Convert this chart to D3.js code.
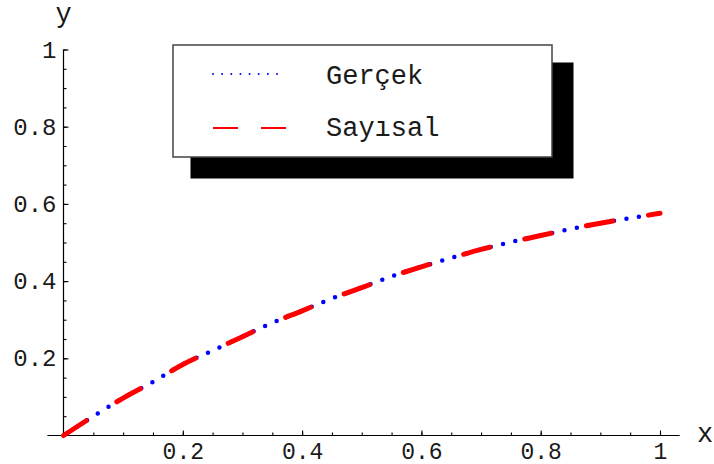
<!DOCTYPE html>
<html>
<head>
<meta charset="utf-8">
<script src="https://cdn.jsdelivr.net/npm/d3@7"></script>
<style>
  body { margin: 0; background: #fff; }
  text { font-family: "Liberation Mono", "DejaVu Sans Mono", monospace; fill: #1a1a1a; }
</style>
</head>
<body>
<svg id="chart" width="714" height="464"></svg>
<script>
// Solution values: exact (Gerçek) and numerical (Sayısal), sampled along x
const xValues       = [0, 0.05, 0.1, 0.15, 0.2, 0.25, 0.3, 0.35, 0.4, 0.45, 0.5,
                       0.55, 0.6, 0.65, 0.7, 0.75, 0.8, 0.85, 0.9, 0.95, 1];
const exactValues   = [0, 0.050, 0.097, 0.139, 0.184, 0.220, 0.256, 0.292, 0.323, 0.355, 0.383,
                       0.412, 0.437, 0.460, 0.482, 0.501, 0.518, 0.535, 0.550, 0.563, 0.576];
const numericValues = [0, 0.050, 0.097, 0.139, 0.184, 0.220, 0.256, 0.292, 0.323, 0.355, 0.383,
                       0.412, 0.437, 0.460, 0.482, 0.501, 0.518, 0.535, 0.550, 0.563, 0.576];

const seriesNames = ["Gerçek", "Sayısal"];
const xTickValues = [0.2, 0.4, 0.6, 0.8, 1];
const xTickLabels = ["0.2", "0.4", "0.6", "0.8", "1"];
const yTickValues = [0.2, 0.4, 0.6, 0.8, 1];
const yTickLabels = ["0.2", "0.4", "0.6", "0.8", "1"];
const minorTickValues = d3.range(1, 21).map(i => i * 0.05);

const svg = d3.select("#chart");

const x = d3.scaleLinear().domain([0, 1]).range([63.5, 660]);
const y = d3.scaleLinear().domain([0, 1]).range([435.5, 49.5]);

// ---- axes (crossing at the origin, ticks pointing inward) ----
const gx = svg.append("g").attr("transform", `translate(0,${y(0)})`);
gx.append("line")
  .attr("x1", x(-0.027)).attr("x2", x(1.033))
  .attr("stroke", "#000").attr("stroke-width", 1.2);
gx.append("g")
  .call(d3.axisBottom(x).tickValues(minorTickValues).tickSize(-3).tickFormat(""))
  .call(g => g.select(".domain").remove());
gx.append("g")
  .call(d3.axisBottom(x).tickValues(xTickValues).tickSize(-5).tickPadding(7)
        .tickFormat((d, i) => xTickLabels[i]))
  .call(g => g.select(".domain").remove())
  .call(g => g.selectAll("text").attr("font-size", 23).attr("font-family", null).attr("fill", null));

const gy = svg.append("g").attr("transform", `translate(${x(0)},0)`);
gy.append("line")
  .attr("y1", y(0)).attr("y2", y(1))
  .attr("stroke", "#000").attr("stroke-width", 1.2);
gy.append("g")
  .call(d3.axisLeft(y).tickValues(minorTickValues).tickSize(-3).tickFormat(""))
  .call(g => g.select(".domain").remove());
gy.append("g")
  .call(d3.axisLeft(y).tickValues(yTickValues).tickSize(-5).tickPadding(7)
        .tickFormat((d, i) => yTickLabels[i]))
  .call(g => g.select(".domain").remove())
  .call(g => g.selectAll("text").attr("font-size", 24).attr("font-family", null).attr("fill", null));

svg.selectAll(".tick line").attr("stroke", "#000").attr("stroke-width", 1.1);

// axis names
svg.append("text").attr("x", x(1.062)).attr("y", y(0) + 6)
  .attr("font-size", 27).text("x");
svg.append("text").attr("x", x(0)).attr("y", 22).attr("text-anchor", "middle")
  .attr("font-size", 27).text("y");

// ---- curves ----
const line = d3.line()
  .x((d, i) => x(xValues[i]))
  .y(d => y(d))
  .curve(d3.curveMonotoneX);

svg.append("path")
  .datum(exactValues)
  .attr("d", line)
  .attr("fill", "none")
  .attr("stroke", "#0000ff")
  .attr("stroke-width", 4.5)
  .attr("stroke-linecap", "round")
  .attr("stroke-dasharray", "0,12.6")
  .attr("stroke-dashoffset", 9.7);

svg.append("path")
  .datum(numericValues)
  .attr("d", line)
  .attr("fill", "none")
  .attr("stroke", "#ff0000")
  .attr("stroke-width", 5)
  .attr("stroke-linecap", "round")
  .attr("stroke-dasharray", "27,36");

// ---- legend with drop shadow ----
const legend = svg.append("g");
legend.append("rect")
  .attr("x", 190.5).attr("y", 62.5).attr("width", 383).attr("height", 116)
  .attr("fill", "#000");
legend.append("rect")
  .attr("x", 173).attr("y", 45).attr("width", 379).attr("height", 112)
  .attr("fill", "#fff").attr("stroke", "#444").attr("stroke-width", 1.5);

const legendRows = [
  { name: seriesNames[0], color: "#0000ff", dash: "0,9.14", cap: "round", width: 2, cy: 74, ty: 83.5 },
  { name: seriesNames[1], color: "#ff0000", dash: "25,23", cap: "butt", width: 2, cy: 128, ty: 135.5 }
];
const rows = legend.selectAll(".row").data(legendRows).join("g").attr("class", "row");
rows.append("line")
  .attr("x1", 213).attr("x2", d => d.cap === "round" ? 277 : 286)
  .attr("y1", d => d.cy).attr("y2", d => d.cy)
  .attr("stroke", d => d.color)
  .attr("stroke-width", d => d.width)
  .attr("stroke-linecap", d => d.cap)
  .attr("stroke-dasharray", d => d.dash);
rows.append("text")
  .attr("x", 326).attr("y", d => d.ty)
  .attr("font-size", 27)
  .text(d => d.name);
</script>
</body>
</html>
